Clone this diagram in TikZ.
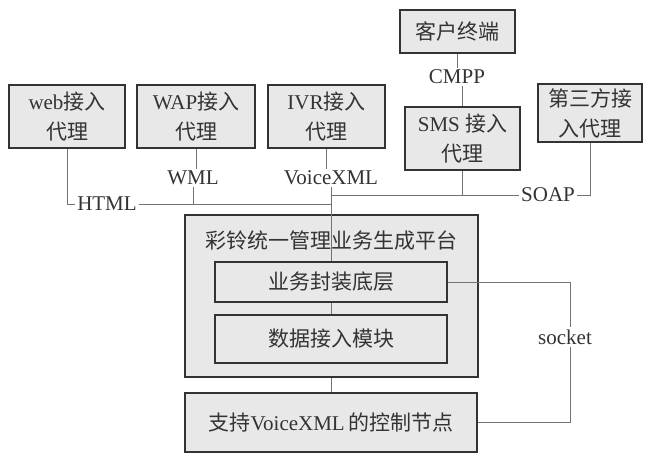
\documentclass[tikz,border=0pt]{standalone}
\usepackage{fontspec}
\setmainfont{Liberation Serif}
\newfontfamily\cjk{Noto Sans CJK SC}
\newcommand{\zh}[1]{{\cjk #1}}
\begin{document}
\begin{tikzpicture}[x=1pt,y=-1pt,
  box/.style={draw=black!80, line width=1.7pt, fill=black!9, text=black!80,
    align=center, inner sep=0pt, font=\fontsize{21}{30}\selectfont},
  inbox/.style={box, line width=1.5pt},
  conn/.style={draw=black!55, line width=0.9pt},
  lab/.style={text=black!80, inner sep=2pt, font=\fontsize{21}{26}\selectfont}]
\useasboundingbox[fill=white] (0,0) rectangle (650,454);
% top row boxes
\node[box, minimum width=116pt, minimum height=63pt] (web) at (67,116.5) {web\zh{接入}\\\zh{代理}};
\node[box, minimum width=118pt, minimum height=63pt] (wap) at (196,116.5) {WAP\zh{接入}\\\zh{代理}};
\node[box, minimum width=117pt, minimum height=63pt] (ivr) at (326.5,116.5) {IVR\zh{接入}\\\zh{代理}};
\node[box, minimum width=115pt, minimum height=43pt] (client) at (457.5,31.5) {\zh{客户终端}};
\node[box, minimum width=115pt, minimum height=63pt] (sms) at (462.5,138.5) {SMS \zh{接入}\\\zh{代理}};
\node[box, minimum width=104pt, minimum height=58pt] (third) at (590,113) {\zh{第三方接}\\\zh{入代理}};
% platform
\node[box, minimum width=293pt, minimum height=162pt] (plat) at (331.5,296) {};
\node[lab, font=\fontsize{21}{26}\selectfont\cjk] (title) at (331,241) {彩铃统一管理业务生成平台};
\node[inbox, minimum width=232pt, minimum height=40pt] (layer1) at (331,282) {\zh{业务封装底层}};
\node[inbox, minimum width=232pt, minimum height=48pt] (layer2) at (331,339) {\zh{数据接入模块}};
\node[box, minimum width=292pt, minimum height=59pt] (ctrl) at (331,422.5) {\zh{支持}VoiceXML\,\zh{的控制节点}};
% labels
\node[lab] (html) at (107,204) {HTML};
\node[lab] (wml) at (193,178) {WML};
\node[lab] (vxml) at (331,178) {VoiceXML};
\node[lab] (cmpp) at (457,77) {CMPP};
\node[lab] (soap) at (548,195) {SOAP};
\node[lab] (socket) at (565,337) {socket};
% connectors
\draw[conn] (web.south) |- (html.west);
\draw[conn] (html.east) -- (html.east -| layer1.north);
\draw[conn] (wap.south) -- (wap.south |- wml.north);
\draw[conn] (wml.south) -- (wml.south |- html.east);
\draw[conn] (ivr.south) -- (ivr.south |- vxml.north);
\draw[conn] (vxml.south -| layer1.north) -- (layer1.north);
\draw[conn] (layer1.north |- soap.west) -- (soap.west);
\draw[conn] (sms.south) -- (sms.south |- soap.west);
\draw[conn] (third.south) |- (soap.east);
\draw[conn] (client.south) -- (client.south |- cmpp.north);
\draw[conn] (sms.north |- cmpp.south) -- (sms.north);
\draw[conn] (layer1.south) -- (layer2.north);
\draw[conn] (ctrl.north |- plat.south) -- (ctrl.north);
\draw[conn] (layer1.east) -| ([xshift=5pt]socket.north);
\draw[conn] ([xshift=5pt]socket.south) |- (ctrl.east);
\end{tikzpicture}
\end{document}
